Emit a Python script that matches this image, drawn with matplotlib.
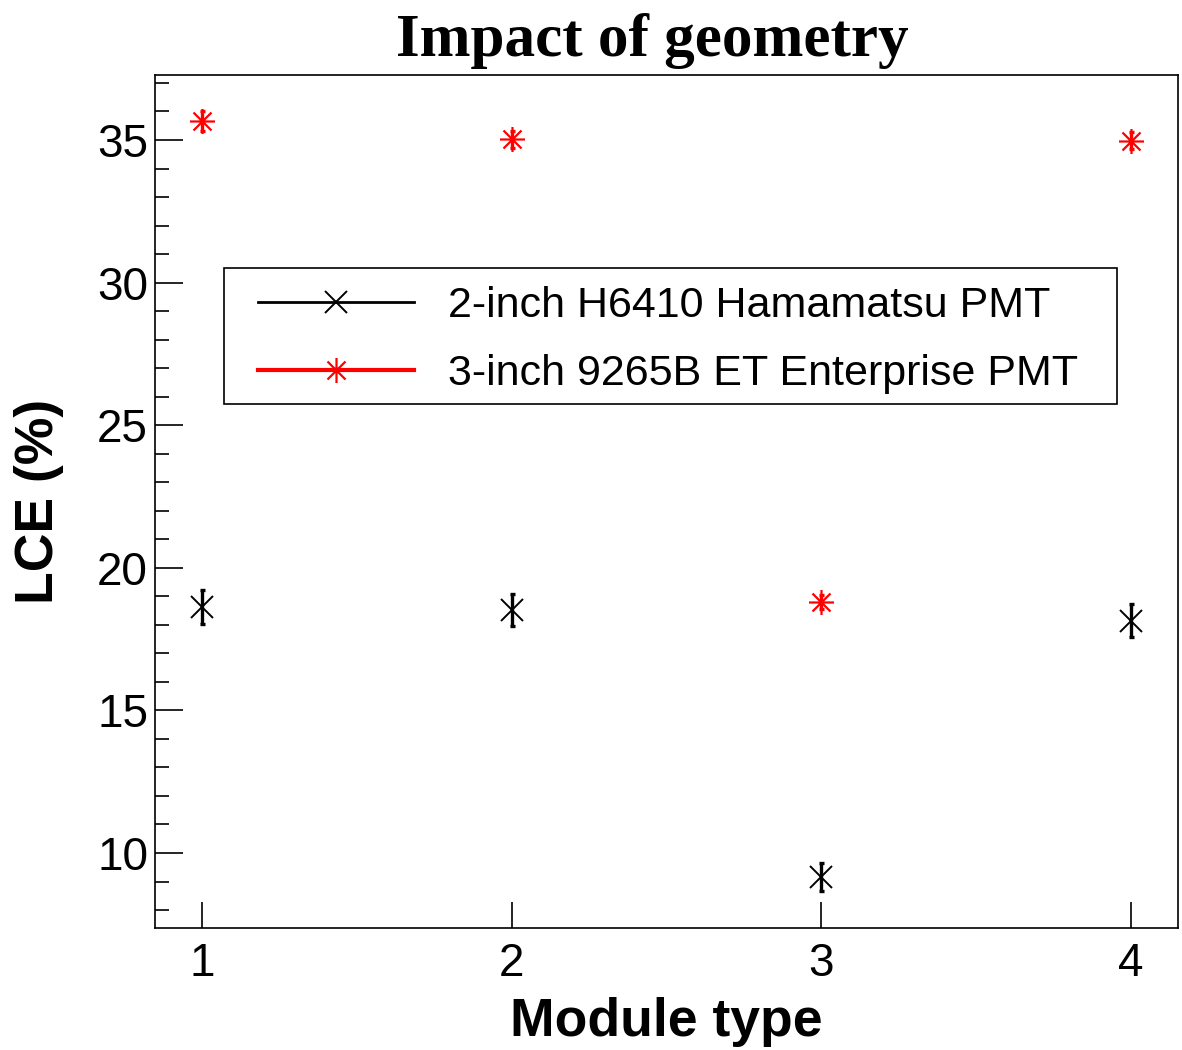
import numpy as np
import matplotlib
matplotlib.use("Agg")
import matplotlib.pyplot as plt
from matplotlib.path import Path
from matplotlib.lines import Line2D
from matplotlib.patches import Rectangle
from matplotlib.ticker import MultipleLocator

# data
module_type = [1, 2, 3, 4]
lce_h6410 = [18.63, 18.52, 9.16, 18.15]
err_h6410 = [0.60, 0.55, 0.50, 0.58]
lce_9265b = [35.65, 35.02, 18.80, 34.98]
err_9265b = [0.35, 0.30, 0.25, 0.30]
labels = ["2-inch H6410 Hamamatsu PMT", "3-inch 9265B ET Enterprise PMT"]

SANS = "Liberation Sans"
SERIF = "Liberation Serif"

# ROOT style asterisk (plus + cross)
d = 0.72
STAR = Path([(-1, 0), (1, 0), (0, -1), (0, 1), (-d, -d), (d, d), (-d, d), (d, -d)],
            [Path.MOVETO, Path.LINETO] * 4)

fig = plt.figure(figsize=(11.82, 10.5), dpi=100)
ax = fig.add_axes([0.1311, 0.1162, 0.8655, 0.8124])

ax.errorbar(module_type, lce_h6410, yerr=err_h6410, fmt="none", ecolor="black",
            elinewidth=2.4, capsize=1.8, capthick=2.4, zorder=3)
ax.plot(module_type, lce_h6410, ls="none", marker="x", ms=16, mew=1.4,
        color="black", zorder=4)
ax.errorbar(module_type, lce_9265b, yerr=err_9265b, fmt="none", ecolor="red",
            elinewidth=2.4, capsize=1.8, capthick=2.4, zorder=3)
ax.plot(module_type, lce_9265b, ls="none", marker=STAR, ms=18, mew=1.6,
        mfc="none", color="red", zorder=4)

ax.set_xlim(0.848, 4.152)
ax.set_ylim(7.37, 37.28)
ax.set_xticks(module_type)
ax.yaxis.set_major_locator(MultipleLocator(5))
ax.yaxis.set_minor_locator(MultipleLocator(1))
ax.tick_params(axis="both", which="major", direction="in", labelsize=33,
               width=1.2)
ax.tick_params(axis="y", which="major", length=20, pad=5)
ax.tick_params(axis="y", which="minor", direction="in", length=10, width=1.2)
ax.tick_params(axis="x", which="major", length=19, pad=10)
for lab in ax.get_xticklabels() + ax.get_yticklabels():
    lab.set_fontfamily(SANS)
for sp in ax.spines.values():
    sp.set_linewidth(1.2)

ax.set_xlabel("Module type", fontsize=38.5, fontweight="bold", family=SANS,
              labelpad=8)
ax.set_ylabel("LCE (%)", fontsize=38.5, fontweight="bold", family=SANS,
              labelpad=24)
ax.set_title("Impact of geometry", fontsize=44, fontweight="bold", family=SERIF,
             pad=14, x=0.486)

# legend: box drawn separately so entries can sit where the reference has them
ax.add_patch(Rectangle((0.0674, 0.6143), 0.8729, 0.1594, transform=ax.transAxes,
                       facecolor="white", edgecolor="black", lw=1.2, zorder=5))
handles = [
    Line2D([], [], color="black", lw=2.0, marker="x", ms=16, mew=1.4),
    Line2D([], [], color="red", lw=3.0, marker=STAR, ms=18, mew=1.6, mfc="none"),
]
leg = ax.legend(handles, labels, loc="center left",
                bbox_to_anchor=(0.1007, 0.6893),
                prop={"family": SANS, "size": 31}, handlelength=3.63,
                handletextpad=0.79, borderpad=0, labelspacing=0.64,
                borderaxespad=0, frameon=False)
leg.set_zorder(6)

fig.savefig("out.png", dpi=100, facecolor="white")
